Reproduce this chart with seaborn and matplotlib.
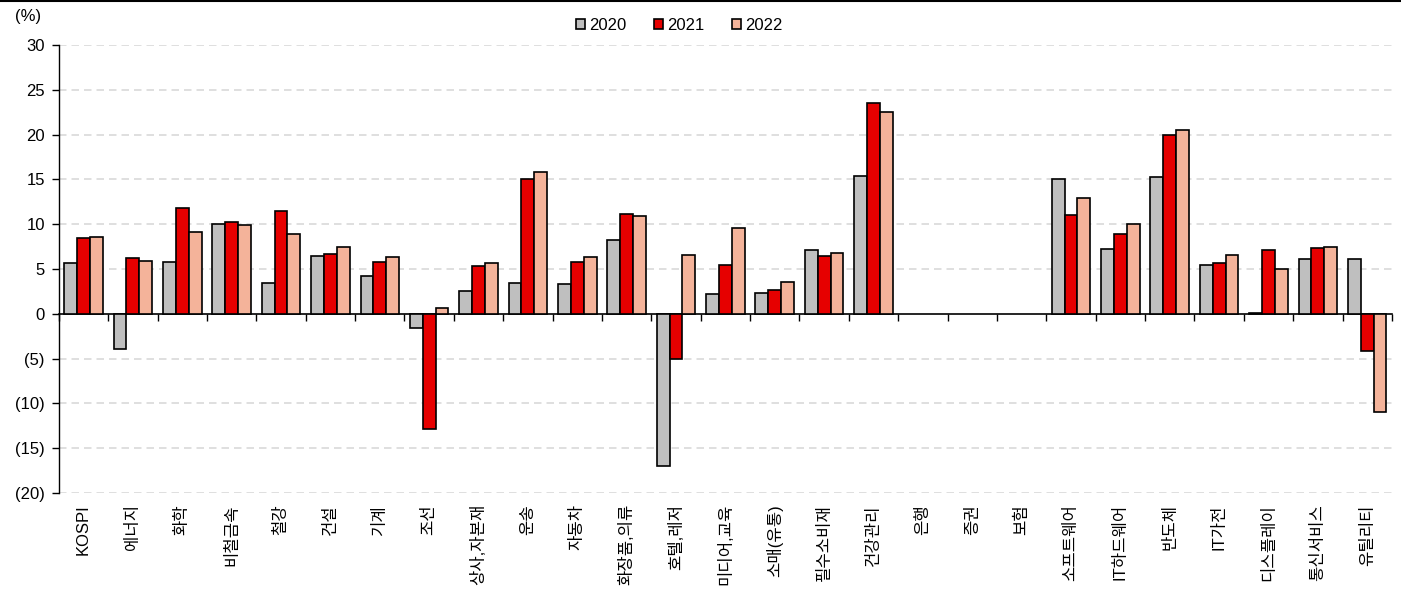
import numpy as np
import pandas as pd
import matplotlib
matplotlib.use("Agg")
import matplotlib.pyplot as plt
from matplotlib.lines import Line2D
from matplotlib.ticker import FuncFormatter
import seaborn as sns

sectors = ["KOSPI", "에너지", "화학", "비철금속", "철강", "건설", "기계", "조선",
           "상사,자본재", "운송", "자동차", "화장품,의류", "호텔,레저", "미디어,교육",
           "소매(유통)", "필수소비재", "건강관리", "은행", "증권", "보험",
           "소프트웨어", "IT하드웨어", "반도체", "IT가전", "디스플레이", "통신서비스", "유틸리티"]
years = ["2020", "2021", "2022"]
v2020 = [5.7, -3.9, 5.8, 10.0, 3.4, 6.4, 4.2, -1.6, 2.5, 3.4, 3.3, 8.2, -17.0, 2.2,
         2.3, 7.1, 15.4, np.nan, np.nan, np.nan, 15.0, 7.2, 15.3, 5.4, 0.1, 6.1, 6.1]
v2021 = [8.5, 6.2, 11.8, 10.2, 11.5, 6.7, 5.8, -12.9, 5.3, 15.0, 5.8, 11.1, -5.0, 5.4,
         2.7, 6.5, 23.5, np.nan, np.nan, np.nan, 11.0, 8.9, 19.9, 5.7, 7.1, 7.3, -4.2]
v2022 = [8.6, 5.9, 9.1, 9.9, 8.9, 7.5, 6.3, 0.7, 5.7, 15.8, 6.3, 10.9, 6.6, 9.6,
         3.5, 6.8, 22.5, np.nan, np.nan, np.nan, 12.9, 10.0, 20.5, 6.6, 5.0, 7.4, -11.0]
colors = ["#BFBFBF", "#E60000", "#F4B39A"]

df = pd.DataFrame({
    "sector": sectors * 3,
    "year": [y for y in years for _ in sectors],
    "value": v2020 + v2021 + v2022,
})

plt.rcParams["font.family"] = ["Liberation Sans", "Noto Sans CJK KR", "DejaVu Sans"]
plt.rcParams["font.size"] = 12

fig = plt.figure(figsize=(14.01, 5.89), dpi=100)
ax = fig.add_axes([0.042, 0.163, 0.9515, 0.7606])

sns.barplot(data=df, x="sector", y="value", hue="year", order=sectors, hue_order=years,
            palette=colors, width=0.78, gap=0, saturation=1, edgecolor="black",
            linewidth=1.2, errorbar=None, ax=ax, zorder=3)

ymin, ymax = -20, 30
ax.set_ylim(ymin, ymax)
ax.set_xlim(-0.5, len(sectors) - 0.5)
ax.set_yticks(np.arange(ymin, ymax + 1, 5))
ax.yaxis.set_major_formatter(FuncFormatter(lambda v, p: f"({abs(v):.0f})" if v < 0 else f"{v:.0f}"))
for yv in np.arange(ymin, ymax + 1, 5):
    if yv != 0:
        ax.axhline(yv, color="#D9D9D9", lw=1.2, ls=(0, (4.5, 3)), zorder=0)

for s in ["top", "right", "bottom"]:
    ax.spines[s].set_visible(False)
ax.spines["left"].set_linewidth(1.0)
ax.tick_params(axis="y", direction="out", length=5, width=1, pad=5, labelsize=12)
ax.tick_params(axis="x", length=0, pad=8, labelsize=12)
ax.set_xticks(range(len(sectors)))
ax.set_xticklabels(sectors, rotation=90, va="top", ha="center")
ax.set_xlabel("")
ax.set_ylabel("")

# zero line with boundary ticks
zero_loc = (0 - ymin) / (ymax - ymin)
sec = ax.secondary_xaxis(zero_loc)
sec.set_xticks(np.arange(-0.5, len(sectors), 1.0))
sec.set_xticklabels([])
sec.tick_params(direction="out", length=5, width=1)
sec.spines["bottom"].set_linewidth(1.2)

ax.legend(loc="center", bbox_to_anchor=(0.4655, 1.043), ncol=3, frameon=False,
          handlelength=0.55, handleheight=0.55, handletextpad=0.25, columnspacing=1.65,
          fontsize=12, borderaxespad=0)

fig.text(0.011, 0.972, "(%)", fontsize=12, va="center", ha="left")
fig.add_artist(Line2D([0, 1], [0.999, 0.999], color="black", lw=1.5))

fig.savefig("out.png", dpi=100)
